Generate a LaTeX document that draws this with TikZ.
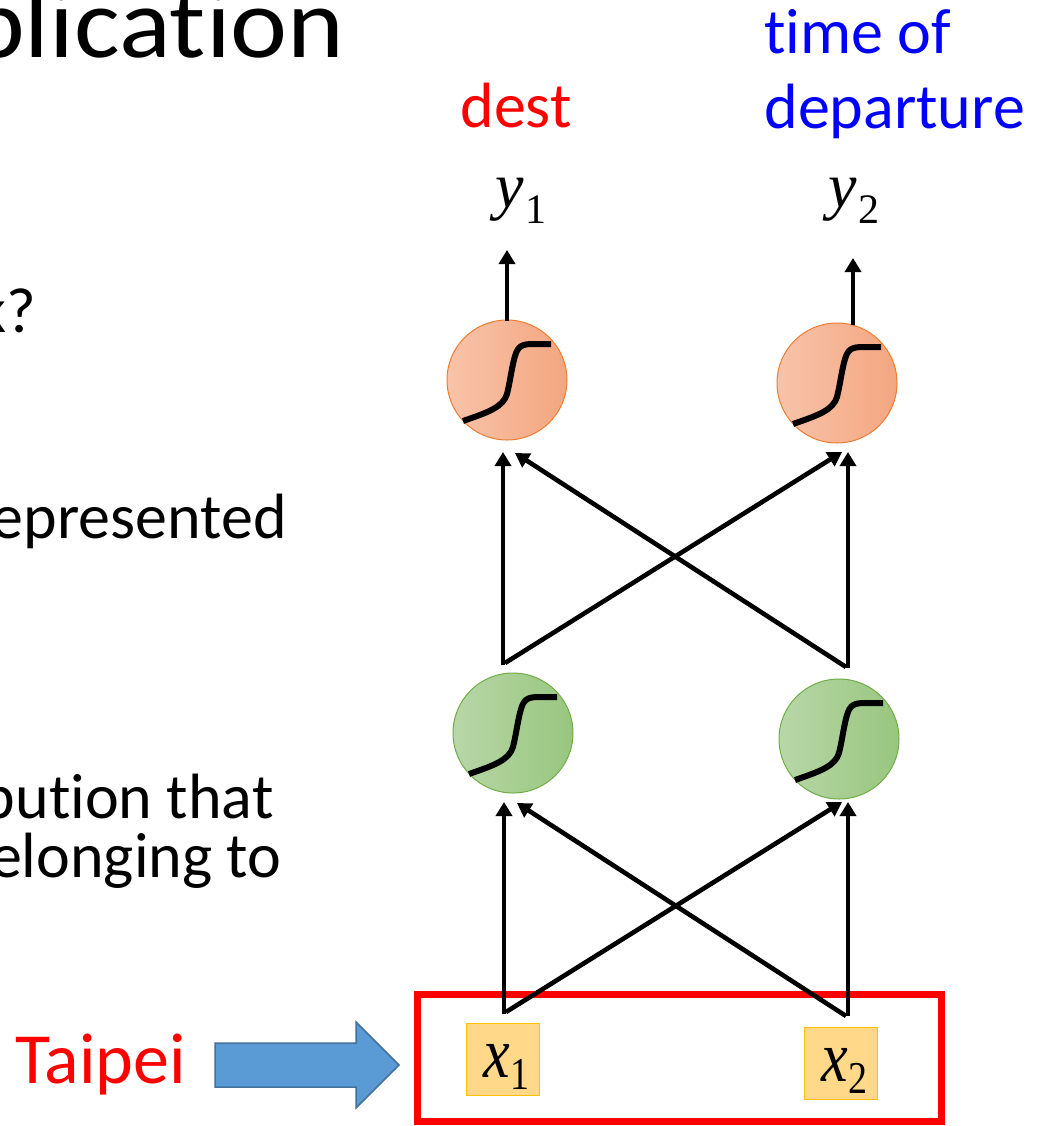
\documentclass[tikz,border=0pt]{standalone}
\usepackage{fontspec}
\setmainfont[Ligatures={NoCommon}]{Carlito}
\newfontfamily\tms{Liberation Serif}
\usetikzlibrary{arrows.meta}
\definecolor{tred}{RGB}{255,0,0}
\definecolor{tblue}{RGB}{0,0,255}
\definecolor{oL}{RGB}{248,196,170}
\definecolor{oR}{RGB}{243,166,128}
\definecolor{oB}{RGB}{237,125,49}
\definecolor{gL}{RGB}{184,215,168}
\definecolor{gR}{RGB}{152,198,126}
\definecolor{gB}{RGB}{112,173,71}
\definecolor{bxF}{RGB}{255,216,138}
\definecolor{bxB}{RGB}{255,192,0}
\definecolor{arF}{RGB}{91,155,213}
\definecolor{arB}{RGB}{65,113,156}
\begin{document}
\begin{tikzpicture}[x=0.5pt,y=-0.5pt,
  body/.style={inner sep=0pt, font=\fontsize{32}{38}\selectfont},
  arr/.style={line width=2.3pt, -{Triangle[length=7pt,width=8pt]}},
  ocirc/.style={circle, minimum size=60pt, inner sep=0pt, draw=oB, line width=0.5pt, left color=oL, right color=oR},
  gcirc/.style={circle, minimum size=60pt, inner sep=0pt, draw=gB, line width=0.5pt, left color=gL, right color=gR},
  xbox/.style={rectangle, inner sep=0pt, minimum width=36.5pt, minimum height=36pt, fill=bxF, draw=bxB, line width=0.5pt},
  sigm/.pic={\draw[line width=3pt] (-44,41) .. controls (-18,32) and (-4,27) .. (0,14) .. controls (3,2) and (5,-14) .. (8,-24) .. controls (11,-34) and (15,-36) .. (26,-36) -- (44,-36);}
]
\clip (0,0) rectangle (1037,1126);
\fill[white] (0,0) rectangle (1037,1126);

% left slide text (cut off)
\node[anchor=base east, inner sep=0pt] (title) at (345,57) {\scalebox{1.08}[1]{\fontsize{50}{60}\selectfont plication}};
\node[body, anchor=base east] (t1) at (37,332) {k?};
\node[body, anchor=base east] (t2) at (287,538) {epresented};
\node[body, anchor=base east] (t3) at (274,818) {bution that};
\node[body, anchor=base east] (t4) at (282,877) {elonging to};

% output labels
\node[body, anchor=base west, text=tred] (dest) at (460,127) {dest};
\node[body, anchor=base west, text=tblue] (tod1) at (764,53) {time of};
\node[body, anchor=base west, text=tblue] (tod2) at (764,128) {departure};
\node[anchor=base west, inner sep=0pt] (y1) at (495,207) {\fontsize{32}{38}\selectfont\tms\itshape y\kern1pt\raisebox{-8pt}{\upshape\fontsize{21}{21}\selectfont 1}};
\node[anchor=base west, inner sep=0pt] (y2) at (828,207) {\fontsize{32}{38}\selectfont\tms\itshape y\kern1pt\raisebox{-8pt}{\upshape\fontsize{21}{21}\selectfont 2}};

% neurons
\node[ocirc] (o1) at (507,380) {};
\node[ocirc] (o2) at (837,383) {};
\node[gcirc] (g1) at (513,733) {};
\node[gcirc] (g2) at (839,739) {};
\pic at (o1) {sigm};
\pic at (o2) {sigm};
\pic at (g1) {sigm};
\pic at (g2) {sigm};

% input boxes
\node[xbox] (x1box) at (503,1059) {};
\node[xbox] (x2box) at (841,1063) {};
\node[anchor=base west, inner sep=0pt] (x1) at (483,1077) {\scalebox{1}[1.2]{\fontsize{30}{36}\selectfont\tms\itshape x\raisebox{-5pt}{\upshape\fontsize{19}{19}\selectfont 1}}};
\node[anchor=base west, inner sep=0pt] (x2) at (821,1081) {\scalebox{1}[1.2]{\fontsize{30}{36}\selectfont\tms\itshape x\raisebox{-5pt}{\upshape\fontsize{19}{19}\selectfont 2}}};

% red frame
\node[draw=tred, line width=3.5pt, inner sep=0pt, minimum width=262pt, minimum height=63.5pt] (frame) at (679,1057.5) {};

% Taipei and block arrow
\node[anchor=base west, inner sep=0pt, text=tred, font=\fontsize{36}{42}\selectfont] (taipei) at (15,1083) {Taipei};
\draw[fill=arF, draw=arB, line width=0.75pt] (215,1043) -- (356,1043) -- (356,1022) -- (399,1065) -- (356,1108) -- (356,1087) -- (215,1087) -- cycle;

% ports
\coordinate (b1) at (504,1014);
\coordinate (b1d) at (506,1012);
\coordinate (b2) at (848,1016);
\coordinate (b2d) at (846,1016);
\coordinate (g1in) at (504,802);
\coordinate (g1ind) at (517,803);
\coordinate (g2in) at (848,802);
\coordinate (g2ind) at (842,802);
\coordinate (m1) at (503,665);
\coordinate (m1d) at (505,663);
\coordinate (m2) at (848,668);
\coordinate (m2d) at (846,667);
\coordinate (o1in) at (503,452);
\coordinate (o1ind) at (515,453);
\coordinate (o2in) at (848,452);
\coordinate (o2ind) at (842,452);
\coordinate (o1out) at (507,321);
\coordinate (y1in) at (507,250);
\coordinate (o2out) at (853,325);
\coordinate (y2in) at (853,258);

% connectors
\draw[arr] (b1) -- (g1in);
\draw[arr] (b1d) -- (g2ind);
\draw[arr] (b2) -- (g2in);
\draw[arr] (b2d) -- (g1ind);
\draw[arr] (m1) -- (o1in);
\draw[arr] (m1d) -- (o2ind);
\draw[arr] (m2) -- (o2in);
\draw[arr] (m2d) -- (o1ind);
\draw[arr] (o1out) -- (y1in);
\draw[arr] (o2out) -- (y2in);
\end{tikzpicture}
\end{document}
